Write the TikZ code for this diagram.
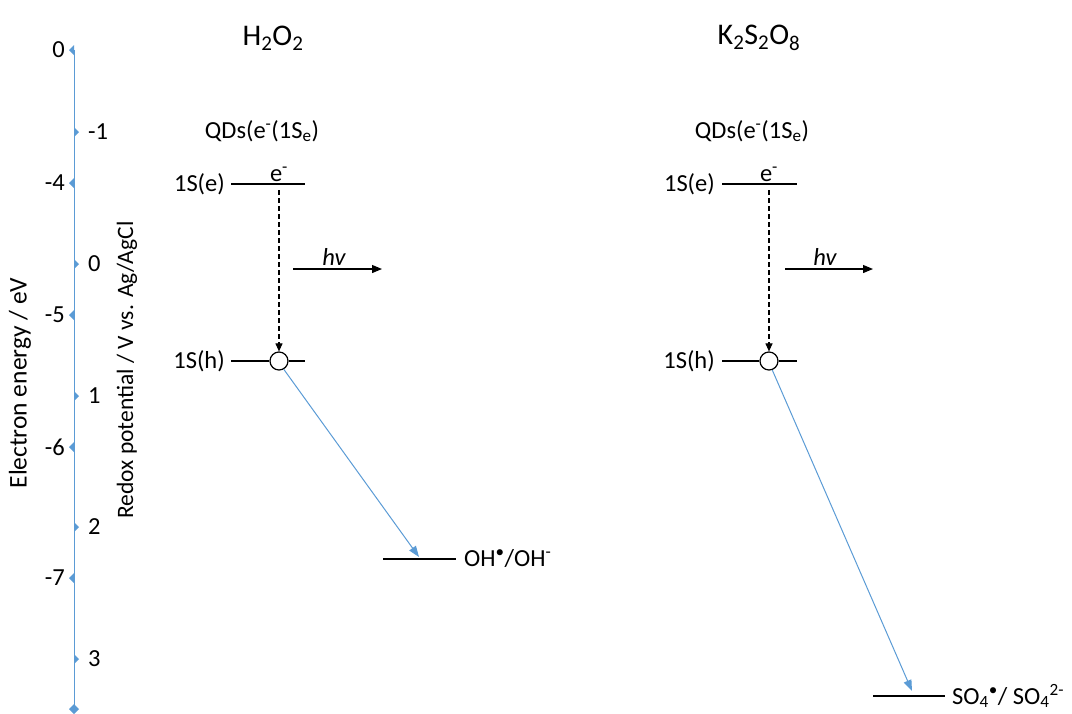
\documentclass[tikz,border=0pt]{standalone}
\usepackage{fontspec}
\setmainfont{Carlito}
\usetikzlibrary{arrows.meta}
\definecolor{axblue}{RGB}{91,155,213}
\newcommand\mysub[1]{\textsubscript{#1}}
\newcommand\mysup[1]{\textsuperscript{#1}}
\begin{document}
\begin{tikzpicture}[x=1pt,y=-1pt,
  txt/.style={inner sep=0pt,font=\fontsize{24.5}{28}\selectfont},
  ttl/.style={inner sep=0pt,font=\fontsize{30}{34}\selectfont},
  lvl/.style={line width=1.2pt},
  harrow/.style={line width=1.2pt,-{Triangle[length=10pt,width=8pt]}},
  darrow/.style={line width=1.1pt,dashed,dash pattern=on 5pt off 3pt,-{Triangle[length=8pt,width=7pt]}},
  barrow/.style={axblue,line width=1pt,-{Triangle[length=11pt,width=8pt]}},
  hole/.style={circle,draw,line width=1.2pt,minimum size=18pt,inner sep=0pt},
]
\useasboundingbox (0,0) rectangle (1072,713);
% axis
\coordinate (axtop) at (74,50);
\coordinate (axbot) at (74,710);
\draw[axblue,line width=1pt] (axtop) -- (axbot);
\foreach \y/\t in {50/0,183/-4,315/-5,447/-6,578/-7}{
  \fill[axblue] (74,\y-5) -- (69,\y) -- (74,\y+5) -- cycle;
  \node[txt,anchor=east] (el\y) at (65,\y) {\t};
}
\foreach \y/\t in {132/-1,264/0,396/1,527/2,659/3}{
  \fill[axblue] (74,\y-5) -- (79,\y) -- (74,\y+5) -- cycle;
  \node[txt,anchor=west] (rl\y) at (88,\y) {\t};
}
\fill[axblue] (74,704) -- (69,709) -- (74,714) -- (79,709) -- cycle;
\node[txt,rotate=90,font=\fontsize{25.5}{28}\selectfont] (eaxis) at (20,383) {Electron energy / eV};
\node[txt,rotate=90,font=\fontsize{23.5}{26}\selectfont] (raxis) at (127,370) {Redox potential / V vs. Ag/AgCl};

% left panel
\node[ttl] (t1) at (273,38) {H\mysub{2}O\mysub{2}};
\node[txt] (qd1) at (262,131) {QDs(e\mysup{-}(1S\mysub{e})};
\node[txt,anchor=east] (le1) at (225,184) {1S(e)};
\coordinate (e1a) at (231,184);
\coordinate (e1b) at (305,184);
\draw[lvl] (e1a) -- (e1b);
\node[txt] (em1) at (279,174) {e\mysup{-}};
\node[hole] (h1) at (279,361) {};
\node[txt,anchor=east] (lh1) at (225,361) {1S(h)};
\coordinate (h1a) at (231,361);
\coordinate (h1b) at (305,361);
\draw[lvl] (h1a) -- (h1.west) (h1.east) -- (h1b);
\coordinate (d1) at (279,190);
\draw[darrow] (d1) -- (h1.north);
\coordinate (hv1a) at (293,269);
\coordinate (hv1b) at (382,269);
\draw[harrow] (hv1a) -- (hv1b);
\node[txt,font=\fontsize{24.5}{28}\selectfont\itshape] (hv1) at (334,257) {hv};
\coordinate (oh1) at (419,557);
\draw[barrow] (h1.-60) -- (oh1);
\coordinate (oha) at (383,559);
\coordinate (ohb) at (456,559);
\draw[lvl] (oha) -- (ohb);
\node[txt,anchor=west] (ohl) at (464,559) {OH\mysup{\textbullet}/OH\mysup{-}};

% right panel
\node[ttl] (t2) at (759,38) {K\mysub{2}S\mysub{2}O\mysub{8}};
\node[txt] (qd2) at (752,131) {QDs(e\mysup{-}(1S\mysub{e})};
\node[txt,anchor=east] (le2) at (715,184) {1S(e)};
\coordinate (e2a) at (722,184);
\coordinate (e2b) at (797,184);
\draw[lvl] (e2a) -- (e2b);
\node[txt] (em2) at (769,174) {e\mysup{-}};
\node[hole] (h2) at (769,361) {};
\node[txt,anchor=east] (lh2) at (715,361) {1S(h)};
\coordinate (h2a) at (722,361);
\coordinate (h2b) at (797,361);
\draw[lvl] (h2a) -- (h2.west) (h2.east) -- (h2b);
\coordinate (d2) at (769,190);
\draw[darrow] (d2) -- (h2.north);
\coordinate (hv2a) at (785,269);
\coordinate (hv2b) at (873,269);
\draw[harrow] (hv2a) -- (hv2b);
\node[txt,font=\fontsize{24.5}{28}\selectfont\itshape] (hv2) at (825,257) {hv};
\coordinate (so) at (912,691);
\draw[barrow] (h2.-70) -- (so);
\coordinate (soa) at (873,696);
\coordinate (sob) at (945,696);
\draw[lvl] (soa) -- (sob);
\node[txt,anchor=west] (sol) at (952,696) {SO\mysub{4}\mysup{\textbullet}/ SO\mysub{4}\mysup{2-}};
\end{tikzpicture}
\end{document}
